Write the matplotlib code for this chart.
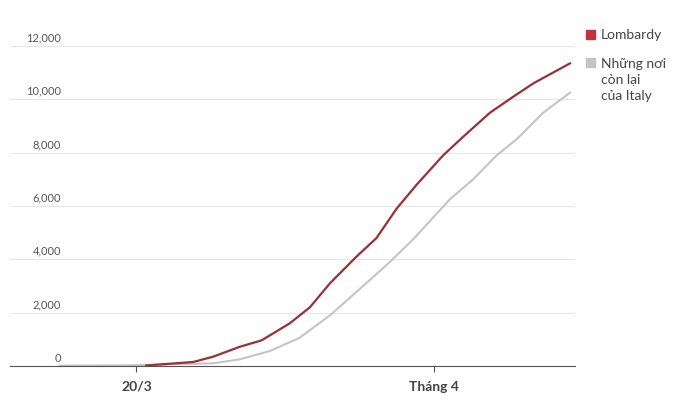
import matplotlib
matplotlib.use("Agg")
import matplotlib.pyplot as plt

# days after 20/3, values in deaths
lombardy_days = [0.40, 2.29, 3.10, 4.17, 5.05, 6.19, 7.00, 7.81, 8.88, 9.69, 10.50,
                 11.31, 12.38, 13.19, 14.27, 15.21, 16.02, 17.50]
lombardy_vals = [20, 150, 350, 720, 960, 1600, 2200, 3100, 4100, 4800, 5900,
                 6800, 7900, 8600, 9500, 10100, 10600, 11350]
rest_days = [-3.1, -0.27, 3.10, 4.17, 5.38, 6.59, 7.81, 9.15, 10.23, 11.17, 11.71,
             12.65, 13.59, 14.54, 15.34, 16.42, 17.50]
rest_vals = [10, 25, 100, 250, 560, 1060, 1900, 3000, 3900, 4750, 5300,
             6250, 7000, 7900, 8500, 9500, 10250]
x_ticks = [0, 12]
x_labels = ["20/3", "Tháng 4"]
y_ticks = [0, 2000, 4000, 6000, 8000, 10000, 12000]

red = "#9b2f35"
gray = "#c4c4c4"
txt = "#555555"

plt.rcParams["font.family"] = ["Lato", "DejaVu Sans"]
fig = plt.figure(figsize=(6.8, 4.06), dpi=100)
ax = fig.add_axes([10 / 680, 1 - 367 / 406, 565 / 680, 320 / 406])

ax.plot(rest_days, rest_vals, color=gray, lw=1.5)
ax.plot(lombardy_days, lombardy_vals, color=red, lw=1.6)

ax.set_xlim(-5.1, 17.7)
ax.set_ylim(0, 12000)
for v in y_ticks:
    if v > 0:
        ax.axhline(v, color="#e6e6e6", lw=0.8, zorder=0)
    ax.text(0.09, v + 130, f"{v:,}", transform=ax.get_yaxis_transform(),
            ha="right", va="bottom", fontsize=8, color=txt)
ax.set_yticks([])
ax.set_xticks(x_ticks)
ax.set_xticklabels(x_labels, fontsize=10, color="#444444", fontweight="bold")
ax.tick_params(axis="x", length=4, color="#555555", pad=6)
for s in ["top", "right", "left"]:
    ax.spines[s].set_visible(False)
ax.spines["bottom"].set_color("#555555")

# legend
fig.patches.append(plt.Rectangle((586 / 680, 1 - 40 / 406), 9 / 680, 9 / 406,
                                 transform=fig.transFigure, color="#c0343f"))
fig.text(601 / 680, 1 - 35 / 406, "Lombardy", fontsize=10, color="#444444", va="center")
fig.patches.append(plt.Rectangle((586 / 680, 1 - 68 / 406), 9 / 680, 9 / 406,
                                 transform=fig.transFigure, color=gray))
fig.text(601 / 680, 1 - 58 / 406, "Những nơi\ncòn lại\ncủa Italy", fontsize=10,
         color="#444444", va="top", linespacing=1.4)

fig.savefig("out.png")
